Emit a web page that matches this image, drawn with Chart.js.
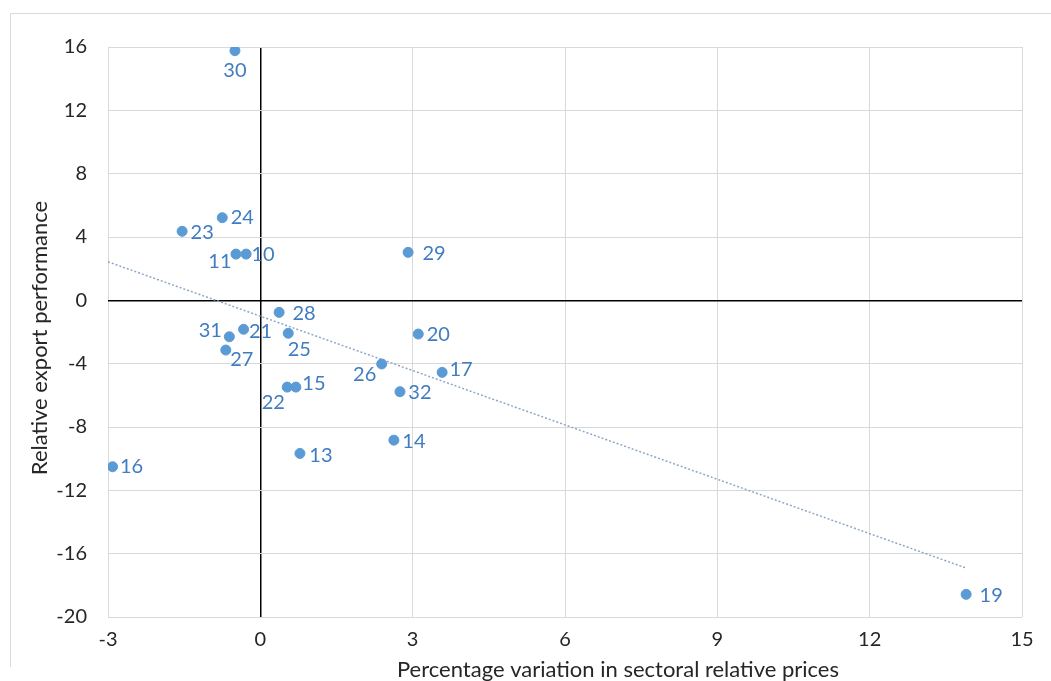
<!DOCTYPE html>
<html>
<head>
<meta charset="utf-8">
<script src="https://cdn.jsdelivr.net/npm/chart.js@4.4.1/dist/chart.umd.min.js"></script>
<style>
  html, body { margin: 0; padding: 0; background: #ffffff; }
  #wrap { position: relative; width: 1051px; height: 681px; }
  canvas { display: block; }
</style>
</head>
<body>
<div id="wrap"><canvas id="c" width="1051" height="681"></canvas></div>
<script>
// ---- data ----
const sectors = ['30','24','23','11','10','29','28','21','31','25','27','20','26','17','15','22','32','14','13','16','19'];
const priceVariation = [-0.50,-0.75,-1.54,-0.48,-0.28,2.91,0.37,-0.33,-0.61,0.55,-0.68,3.11,2.39,3.58,0.70,0.53,2.75,2.63,0.78,-2.91,13.90];
const exportPerformance = [15.77,5.22,4.36,2.92,2.92,3.03,-0.76,-1.83,-2.30,-2.08,-3.14,-2.13,-4.02,-4.55,-5.48,-5.48,-5.77,-8.83,-9.67,-10.51,-18.57];
const xTicks = [-3,0,3,6,9,12,15];
const yTicks = [-20,-16,-12,-8,-4,0,4,8,12,16];
const xTitle = 'Percentage variation in sectoral relative prices';
const yTitle = 'Relative export performance';

// ---- label placement (style, not data): offset of each label from its point ----
const labelOffsets = [
  [0,20],[20,0],[20,1],[-16,7],[17,0],[26,1],[25,1],[17,2],[-19,-6],[11,16],
  [16,9],[20,0],[-17,11],[19,-3],[18,-4],[-14,15],[20,1],[20,1],[21,2],[19,0],[25,1]
];

// linear least squares trend line computed from the series
function trend(xs, ys) {
  const n = xs.length;
  const mx = xs.reduce((a,b)=>a+b,0)/n, my = ys.reduce((a,b)=>a+b,0)/n;
  let sxy = 0, sxx = 0;
  for (let i=0;i<n;i++){ sxy += (xs[i]-mx)*(ys[i]-my); sxx += (xs[i]-mx)*(xs[i]-mx); }
  const b = sxy/sxx, a = my - b*mx;
  const x0 = xTicks[0], x1 = Math.max(...xs);
  return [{x:x0, y:a+b*x0}, {x:x1, y:a+b*x1}];
}

const points = priceVariation.map((x,i)=>({x, y: exportPerformance[i]}));
const FONT = 'Lato, "Open Sans", sans-serif';
const TEXT = '#262626';

const decor = {
  id: 'decor',
  beforeDraw(chart) {
    const ctx = chart.ctx;
    ctx.save();
    ctx.fillStyle = '#ffffff';
    ctx.fillRect(0,0,chart.width,chart.height);
    ctx.strokeStyle = '#d9d9d9';
    ctx.lineWidth = 1;
    ctx.beginPath();
    ctx.moveTo(10.5, 667); ctx.lineTo(10.5, 13.5); ctx.lineTo(chart.width, 13.5);
    ctx.stroke();
    ctx.restore();
  },
  afterDatasetsDraw(chart) {
    const ctx = chart.ctx;
    const meta = chart.getDatasetMeta(0);
    ctx.save();
    ctx.font = '20px ' + FONT;
    ctx.fillStyle = '#3f7cc0';
    ctx.textAlign = 'center';
    ctx.textBaseline = 'middle';
    meta.data.forEach((el, i) => {
      const o = labelOffsets[i];
      ctx.fillText(sectors[i], el.x + o[0], el.y + o[1]);
    });
    // axis titles
    ctx.fillStyle = TEXT;
    ctx.font = '22px ' + FONT;
    ctx.fillText(xTitle, 618, 670);
    ctx.translate(40, 338);
    ctx.rotate(-Math.PI/2);
    ctx.fillText(yTitle, 0, 0);
    ctx.restore();
  }
};

const gridColor = c => (c.tick && c.tick.value === 0) ? '#000000' : '#d9d9d9';
const gridWidth = c => (c.tick && c.tick.value === 0) ? 1.5 : 1;

new Chart(document.getElementById('c'), {
  type: 'scatter',
  data: {
    datasets: [
      {
        label: 'Sectors',
        data: points,
        backgroundColor: '#5b9bd5',
        borderColor: '#5b9bd5',
        pointRadius: 5,
        pointHoverRadius: 5
      },
      {
        type: 'line',
        label: 'Trend',
        data: trend(priceVariation, exportPerformance),
        borderColor: '#8ea7c8',
        borderWidth: 1.5,
        borderDash: [2,2],
        pointRadius: 0,
        fill: false
      }
    ]
  },
  options: {
    responsive: false,
    animation: false,
    devicePixelRatio: 1,
    layout: { padding: { top: 47, right: 29, left: 0, bottom: 0 } },
    plugins: { legend: { display: false }, tooltip: { enabled: false }, title: { display: false } },
    scales: {
      x: {
        type: 'linear',
        min: xTicks[0], max: xTicks[xTicks.length-1],
        afterBuildTicks: s => { s.ticks = xTicks.map(v => ({value: v})); },
        afterFit: s => { s.height = 64; },
        ticks: { font: { family: FONT, size: 20 }, color: TEXT, padding: 11, maxRotation: 0 },
        grid: { color: gridColor, lineWidth: gridWidth, drawTicks: false },
        border: { display: false }
      },
      y: {
        type: 'linear',
        min: yTicks[0], max: yTicks[yTicks.length-1],
        afterBuildTicks: s => { s.ticks = yTicks.map(v => ({value: v})); },
        afterFit: s => { s.width = 108; },
        ticks: { font: { family: FONT, size: 20 }, color: TEXT, padding: 21 },
        grid: { color: gridColor, lineWidth: gridWidth, drawTicks: false },
        border: { display: false }
      }
    }
  },
  plugins: [decor]
});
</script>
</body>
</html>
